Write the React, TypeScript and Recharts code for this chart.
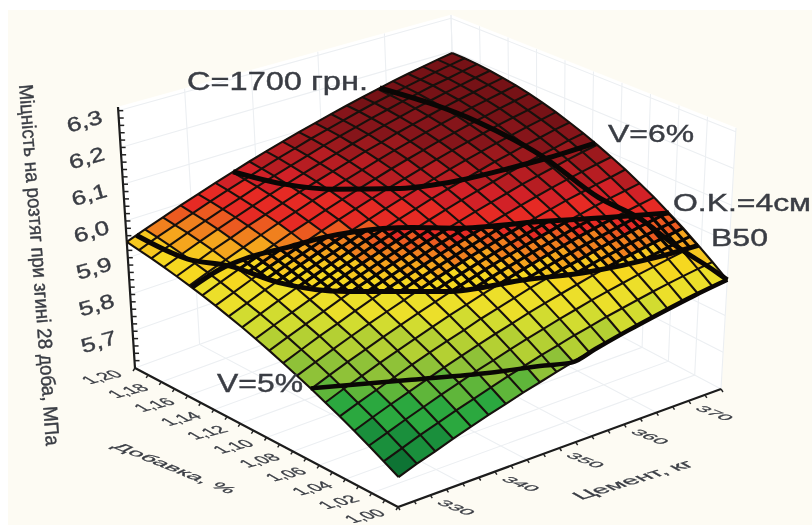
import { ComposedChart, Polygon, Scatter, XAxis, YAxis } from "recharts"

const additiveLevels = [1.0, 1.01, 1.02, 1.03, 1.04, 1.05, 1.06, 1.07, 1.08, 1.09, 1.1, 1.11, 1.12, 1.13, 1.14, 1.15, 1.16, 1.17, 1.18, 1.19, 1.2]
const cementLevels = [320, 322.5, 325, 327.5, 330, 332.5, 335, 337.5, 340, 342.5, 345, 347.5, 350, 352.5, 355, 357.5, 360, 362.5, 365, 367.5, 370]

// one row per cement level, one column per additive level
const strengthRows = [
  [5.674, 5.694, 5.714, 5.733, 5.751, 5.768, 5.785, 5.801, 5.816, 5.831, 5.845, 5.858, 5.87, 5.882, 5.893, 5.903, 5.912, 5.921, 5.929, 5.936, 5.943],
  [5.691, 5.711, 5.731, 5.751, 5.769, 5.787, 5.804, 5.82, 5.835, 5.85, 5.864, 5.877, 5.889, 5.901, 5.912, 5.922, 5.931, 5.94, 5.948, 5.955, 5.961],
  [5.706, 5.728, 5.748, 5.768, 5.786, 5.804, 5.822, 5.838, 5.854, 5.868, 5.882, 5.896, 5.908, 5.92, 5.93, 5.94, 5.95, 5.958, 5.966, 5.972, 5.978],
  [5.722, 5.743, 5.764, 5.784, 5.803, 5.822, 5.839, 5.856, 5.871, 5.886, 5.9, 5.914, 5.926, 5.938, 5.948, 5.958, 5.967, 5.976, 5.983, 5.989, 5.995],
  [5.737, 5.759, 5.78, 5.8, 5.82, 5.838, 5.856, 5.873, 5.889, 5.904, 5.918, 5.931, 5.944, 5.955, 5.966, 5.976, 5.985, 5.993, 6.0, 6.006, 6.011],
  [5.751, 5.773, 5.795, 5.816, 5.836, 5.854, 5.872, 5.889, 5.906, 5.921, 5.935, 5.948, 5.961, 5.972, 5.983, 5.993, 6.001, 6.009, 6.016, 6.022, 6.027],
  [5.764, 5.787, 5.81, 5.831, 5.851, 5.87, 5.888, 5.905, 5.922, 5.937, 5.951, 5.965, 5.977, 5.989, 5.999, 6.009, 6.017, 6.025, 6.032, 6.037, 6.042],
  [5.778, 5.801, 5.823, 5.845, 5.865, 5.885, 5.903, 5.921, 5.937, 5.953, 5.967, 5.981, 5.993, 6.005, 6.015, 6.025, 6.033, 6.04, 6.047, 6.052, 6.057],
  [5.79, 5.814, 5.837, 5.859, 5.88, 5.899, 5.918, 5.936, 5.952, 5.968, 5.982, 5.996, 6.008, 6.02, 6.03, 6.04, 6.048, 6.055, 6.061, 6.067, 6.071],
  [5.802, 5.827, 5.85, 5.872, 5.893, 5.913, 5.932, 5.95, 5.967, 5.983, 5.997, 6.011, 6.023, 6.035, 6.045, 6.054, 6.062, 6.069, 6.075, 6.08, 6.084],
  [5.814, 5.838, 5.862, 5.885, 5.906, 5.926, 5.946, 5.964, 5.981, 5.997, 6.011, 6.025, 6.037, 6.049, 6.059, 6.068, 6.076, 6.083, 6.089, 6.094, 6.097],
  [5.824, 5.85, 5.874, 5.897, 5.919, 5.939, 5.959, 5.977, 5.994, 6.01, 6.025, 6.039, 6.051, 6.062, 6.073, 6.082, 6.09, 6.096, 6.102, 6.106, 6.109],
  [5.835, 5.86, 5.885, 5.908, 5.93, 5.951, 5.971, 5.99, 6.007, 6.023, 6.038, 6.052, 6.064, 6.075, 6.086, 6.095, 6.102, 6.109, 6.114, 6.118, 6.121],
  [5.844, 5.871, 5.896, 5.919, 5.942, 5.963, 5.983, 6.002, 6.019, 6.035, 6.05, 6.064, 6.077, 6.088, 6.098, 6.107, 6.115, 6.121, 6.126, 6.13, 6.132],
  [5.854, 5.88, 5.906, 5.93, 5.952, 5.974, 5.994, 6.013, 6.031, 6.047, 6.062, 6.076, 6.089, 6.1, 6.11, 6.119, 6.126, 6.132, 6.137, 6.141, 6.143],
  [5.862, 5.889, 5.915, 5.94, 5.963, 5.985, 6.005, 6.024, 6.042, 6.059, 6.074, 6.088, 6.1, 6.111, 6.121, 6.13, 6.137, 6.143, 6.148, 6.151, 6.153],
  [5.87, 5.898, 5.924, 5.949, 5.972, 5.994, 6.015, 6.035, 6.053, 6.069, 6.084, 6.098, 6.111, 6.122, 6.132, 6.141, 6.148, 6.153, 6.158, 6.161, 6.163],
  [5.878, 5.906, 5.932, 5.958, 5.981, 6.004, 6.025, 6.044, 6.063, 6.079, 6.095, 6.109, 6.121, 6.133, 6.142, 6.151, 6.158, 6.163, 6.168, 6.17, 6.172],
  [5.885, 5.913, 5.94, 5.966, 5.99, 6.013, 6.034, 6.054, 6.072, 6.089, 6.104, 6.118, 6.131, 6.142, 6.152, 6.16, 6.167, 6.172, 6.176, 6.179, 6.18],
  [5.891, 5.92, 5.948, 5.973, 5.998, 6.021, 6.042, 6.062, 6.081, 6.098, 6.114, 6.128, 6.14, 6.151, 6.161, 6.169, 6.176, 6.181, 6.185, 6.187, 6.188],
  [5.897, 5.926, 5.954, 5.981, 6.005, 6.029, 6.05, 6.071, 6.089, 6.106, 6.122, 6.136, 6.149, 6.16, 6.17, 6.178, 6.184, 6.189, 6.193, 6.195, 6.195],
]

// iso-lines on the surface, [additive, cement]
const costCurve = [[1.2, 359], [1.144, 362], [1.105, 363.6], [1.069, 364.5], [1.048, 366.5], [1.028, 367.5], [1.006, 369.5], [1.0, 370]]
const v6Curve = [[1.2, 336.5], [1.174, 338.8], [1.154, 342], [1.132, 347.6], [1.118, 353.2], [1.109, 359], [1.103, 364], [1.098, 370]]
const v5Curve = [[1.066, 320], [1.038, 329.7], [1.018, 337.6], [1.006, 343.5], [1.0, 346.5], [1.0, 350], [1.0, 355], [1.0, 360], [1.0, 365], [1.0, 370]]
const okCurve = [[1.153, 320], [1.152, 324.1], [1.148, 327.6], [1.139, 332.1], [1.132, 335.9], [1.125, 338.9], [1.108, 344.4], [1.094, 348.2], [1.073, 356.5], [1.057, 363.3], [1.044, 370]]
const b50Curve = [[1.2, 321.5], [1.169, 322.7], [1.15, 325.3], [1.125, 327.5], [1.098, 332.3], [1.067, 341], [1.05, 349.2], [1.036, 356.4], [1.026, 364.6], [1.022, 370]]

const strengthTicks = [5.7, 5.8, 5.9, 6.0, 6.1, 6.2, 6.3]
const additiveTicks = [1.0, 1.02, 1.04, 1.06, 1.08, 1.1, 1.12, 1.14, 1.16, 1.18, 1.2]
const cementTicks = [330, 340, 350, 360, 370]
const strengthMinor = [5.62, 5.64, 5.66, 5.68, 5.7, 5.72, 5.74, 5.76, 5.78, 5.8, 5.82, 5.84, 5.86, 5.88, 5.9, 5.92, 5.94, 5.96, 5.98, 6.0, 6.02, 6.04, 6.06, 6.08, 6.1, 6.12, 6.14, 6.16, 6.18, 6.2, 6.22, 6.24, 6.26, 6.28, 6.3]

// colour bands: upper strength limit, fill
const bands: [number, string][] = [
  [5.7, "#0e7434"], [5.74, "#1a8f3c"], [5.775, "#2ba83f"], [5.8, "#5fb63a"], [5.83, "#8fc238"], [5.86, "#b4d033"],
  [5.885, "#d2dc30"], [5.915, "#ecdf2a"], [5.935, "#f6d820"], [5.95, "#f6c71f"], [5.965, "#f5a51d"], [5.98, "#f0801e"],
  [5.995, "#ec5a20"], [6.03, "#e62a24"], [6.055, "#d22127"], [6.08, "#b71d22"], [6.105, "#9c191d"], [6.135, "#86151a"], [9, "#761216"],
]

const WIDTH = 812
const HEIGHT = 525
const zMin = 5.6
const zMax = 6.31
const FORESHORTEN = 0.14

// box corners on the page: floor and top of front, left, right and back verticals
const floor = { f: [398, 507], l: [135, 368], r: [721, 389], b: [458, 250] }
const top = { f: [403, 220], l: [118, 107], r: [736, 128], b: [451, 15] }

type Pt = { x: number; y: number }

function project(additive: number, cement: number, strength: number): Pt {
  const u = (additive - 1) / 0.2
  const v = (cement - 320) / 50
  const w = (strength - zMin) / (zMax - zMin)
  const at = (k: number) => {
    const low = (1 - u) * (1 - v) * floor.f[k] + u * (1 - v) * floor.l[k] + (1 - u) * v * floor.r[k] + u * v * floor.b[k]
    const high = (1 - u) * (1 - v) * top.f[k] + u * (1 - v) * top.l[k] + (1 - u) * v * top.r[k] + u * v * top.b[k]
    return low + (high - low) * w
  }
  return { x: at(0), y: at(1) }
}

// the surface mesh shrinks towards the back corner, as in a perspective view
const warp = (t: number) => ((1 + FORESHORTEN) * t) / (1 + FORESHORTEN * t)
const unwarp = (t: number) => t / (1 + FORESHORTEN - FORESHORTEN * t)
const meshPoint = (additive: number, cement: number, strength: number) =>
  project(1 + warp((additive - 1) / 0.2) * 0.2, 320 + warp((cement - 320) / 50) * 50, strength)

function strengthAt(additive: number, cement: number) {
  const fi = Math.min(19.999, (additive - 1) / 0.01)
  const fj = Math.min(19.999, (cement - 320) / 2.5)
  const i = Math.floor(fi)
  const j = Math.floor(fj)
  const a = fi - i
  const b = fj - j
  return (
    strengthRows[j][i] * (1 - a) * (1 - b) +
    strengthRows[j][i + 1] * a * (1 - b) +
    strengthRows[j + 1][i] * (1 - a) * b +
    strengthRows[j + 1][i + 1] * a * b
  )
}

const curvePoints = (curve: number[][]) =>
  curve.map(([a, c]) => project(a, c, strengthAt(1 + unwarp((a - 1) / 0.2) * 0.2, 320 + unwarp((c - 320) / 50) * 50)))

function bandColor(z: number) {
  return bands.find((b) => z < b[0])![1]
}

function makeCell(points: Pt[], fill: string) {
  const [first] = points
  return { x: first.x, y: first.y, fill, offsets: points.map((p) => [p.x - first.x, p.y - first.y]) }
}

const cells: ReturnType<typeof makeCell>[] = []
cementLevels.slice(0, -1).forEach((c, j) => {
  additiveLevels.slice(0, -1).forEach((a, i) => {
    const mean = (strengthRows[j][i] + strengthRows[j][i + 1] + strengthRows[j + 1][i] + strengthRows[j + 1][i + 1]) / 4
    cells.push(
      makeCell(
        [
          meshPoint(a, c, strengthRows[j][i]),
          meshPoint(additiveLevels[i + 1], c, strengthRows[j][i + 1]),
          meshPoint(additiveLevels[i + 1], cementLevels[j + 1], strengthRows[j + 1][i + 1]),
          meshPoint(a, cementLevels[j + 1], strengthRows[j + 1][i]),
        ],
        bandColor(mean),
      ),
    )
  })
})

const walls = [
  makeCell([project(1.2, 320, zMin), project(1.2, 320, zMax), project(1.2, 370, zMax), project(1.2, 370, zMin)], "#ffffff"),
  makeCell([project(1.2, 370, zMin), project(1.2, 370, zMax), project(1, 370, zMax), project(1, 370, zMin)], "#ffffff"),
  makeCell([project(1, 320, zMin), project(1.2, 320, zMin), project(1.2, 370, zMin), project(1, 370, zMin)], "#ffffff"),
]

const meshRows = additiveLevels.map((a, i) => cementLevels.map((c, j) => meshPoint(a, c, strengthRows[j][i])))
const meshCols = cementLevels.map((c, j) => additiveLevels.map((a, i) => meshPoint(a, c, strengthRows[j][i])))

const midAdditive = additiveLevels.slice(0, -1).map((a, i) => (a + additiveLevels[i + 1]) / 2)
const midCement = cementLevels.slice(0, -1).map((c, j) => (c + cementLevels[j + 1]) / 2)
const hatchLines = [
  ...meshRows,
  ...meshCols,
  ...midAdditive.map((a) => cementLevels.map((c) => meshPoint(a, c, strengthAt(a, c)))),
  ...midCement.map((c) => additiveLevels.map((a) => meshPoint(a, c, strengthAt(a, c)))),
]

const hatchOutline = [...curvePoints(okCurve.slice(2)), ...curvePoints(b50Curve.slice(2)).reverse()]

const gridLines = [
  ...strengthTicks.map((z) => [project(1.2, 320, z), project(1.2, 370, z), project(1, 370, z)]),
  ...cementTicks.map((c) => [project(1, c, zMin), project(1.2, c, zMin), project(1.2, c, zMax)]),
  ...additiveTicks.map((a) => [project(a, 320, zMin), project(a, 370, zMin), project(a, 370, zMax)]),
]

const leftTicks = strengthMinor.map((z) => project(1.2, 320, z))
const frontTicks = additiveLevels.map((a) => project(a, 320, zMin))
const rightTicks = cementLevels.map((c) => project(1, c, zMin))

const axisLine = [project(1.2, 320, zMax), project(1.2, 320, zMin), project(1, 320, zMin), project(1, 370, zMin)]

type Label = Pt & { text: string; size: number; length: number; transform: string; anchor?: string }

const shifted = (p: Pt, dx: number, dy: number) => ({ x: p.x + dx, y: p.y + dy })

const floorAlongCement = "matrix(1 -0.25 0.85 0.5 0 0)"
const floorAlongAdditive = "matrix(1 0.38 -0.75 0.3 0 0)"

const tickLabels: Label[] = [
  ...strengthTicks.map((z) => ({
    ...shifted(project(1.2, 320, z), -32, 17),
    text: z.toFixed(1).replace(".", ","),
    size: 20,
    length: 36,
    transform: "rotate(-16)",
    anchor: "middle",
  })),
  ...additiveTicks.map((a) => ({
    ...shifted(project(a, 320, zMin), -28, 12),
    text: a.toFixed(2).replace(".", ","),
    size: 18,
    length: 34,
    transform: floorAlongCement,
    anchor: "middle",
  })),
  ...cementTicks.map((c) => ({
    ...shifted(project(1, c, zMin), -11, 26),
    text: String(c),
    size: 18,
    length: 32,
    transform: floorAlongAdditive,
    anchor: "middle",
  })),
]

const textLabels: Label[] = [
  { x: 187, y: 90, text: "C=1700 грн.", size: 25, length: 181, transform: "" },
  { x: 608, y: 142, text: "V=6%", size: 24, length: 86, transform: "" },
  { x: 673, y: 211, text: "O.K.=4см", size: 23, length: 138, transform: "" },
  { x: 711, y: 246, text: "B50", size: 23, length: 57, transform: "" },
  { x: 217, y: 392, text: "V=5%", size: 25, length: 86, transform: "" },
  { x: 19, y: 85, text: "Міцність на розтяг при згині 28 доба, МПа", size: 20, length: 362, transform: "rotate(85.7)" },
  { x: 111, y: 447, text: "Добавка, %", size: 20, length: 118, transform: "matrix(1 0.4 -0.7 0.35 0 0)" },
  { x: 581, y: 500, text: "Цемент, кг", size: 20, length: 115, transform: "matrix(1 -0.3 0.8 0.45 0 0)" },
]

function CellShape({ cx, cy, payload }: any) {
  const points = payload.offsets.map(([dx, dy]: number[]) => ({ x: cx + dx, y: cy + dy }))
  return <Polygon points={points} fill={payload.fill} stroke={payload.fill} strokeWidth={0.6} />
}

function LabelShape({ cx, cy, payload }: any) {
  return (
    <text
      transform={`translate(${cx} ${cy}) ${payload.transform}`}
      fontFamily="'Liberation Sans', Arial, sans-serif"
      fontSize={payload.size}
      fill="#3a3d44"
      stroke="#3a3d44"
      strokeWidth={0.4}
      textAnchor={payload.anchor ?? "start"}
      textLength={payload.length}
      lengthAdjust="spacingAndGlyphs"
    >
      {payload.text}
    </text>
  )
}

const NoPoint = () => <g />

// every polyline is a Scatter so that it keeps its place in the paint order
function series(points: Pt[], key: string, stroke: string, width: number, extra: object = {}) {
  return <Scatter key={key} data={points} line={{ stroke, strokeWidth: width }} shape={NoPoint} isAnimationActive={false} {...extra} />
}

export default function App() {
  const outline = hatchOutline.map((p) => `${p.x},${p.y}`).join(" ")
  return (
    <div style={{ position: "relative", width: WIDTH, height: HEIGHT, overflow: "hidden", background: "#fff" }}>
      <style>{"body{margin:0}.hatch{clip-path:url(#hatchClip)}"}</style>
      <div style={{ position: "absolute", left: 8, top: 10, right: 0, bottom: 0, background: "#fdfbf3" }} />
      <svg width={0} height={0} style={{ position: "absolute" }}>
        <defs>
          <clipPath id="hatchClip">
            <polygon points={outline} />
          </clipPath>
        </defs>
      </svg>
      <div style={{ position: "absolute", left: 0, top: 0, filter: "blur(0.7px)" }}>
        <ComposedChart width={WIDTH} height={HEIGHT} margin={{ top: 0, right: 0, bottom: 0, left: 0 }}>
          <XAxis type="number" dataKey="x" domain={[0, WIDTH]} hide />
          <YAxis type="number" dataKey="y" domain={[0, HEIGHT]} reversed hide />

          <Scatter data={walls} shape={CellShape} isAnimationActive={false} />
          {gridLines.map((g, i) => series(g, `grid-${i}`, "#eceff2", 1.1))}
          {series(axisLine, "axis", "#1c1c1c", 2.2)}
          <Scatter data={leftTicks} isAnimationActive={false} shape={({ cx, cy }: any) => <line x1={cx} y1={cy} x2={cx + 5} y2={cy} stroke="#222" strokeWidth={1.5} />} />
          <Scatter data={frontTicks} isAnimationActive={false} shape={({ cx, cy }: any) => <line x1={cx} y1={cy} x2={cx - 2} y2={cy + 3} stroke="#222" strokeWidth={1.4} />} />
          <Scatter data={rightTicks} isAnimationActive={false} shape={({ cx, cy }: any) => <line x1={cx} y1={cy} x2={cx + 2} y2={cy + 3} stroke="#222" strokeWidth={1.4} />} />

          <Scatter data={cells} shape={CellShape} isAnimationActive={false} />
          {meshRows.map((g, i) => series(g, `row-${i}`, "#17110d", 2.1))}
          {meshCols.map((g, i) => series(g, `col-${i}`, "#17110d", 2.1))}
          {hatchLines.map((g, i) => series(g, `hatch-${i}`, "#0a0705", 3.1, { className: "hatch" }))}

          {series(curvePoints(costCurve), "cost", "#0a0705", 5, { lineJointType: "monotoneX" })}
          {series(curvePoints(v6Curve), "v6", "#0a0705", 5, { lineJointType: "monotoneX" })}
          {series(curvePoints(v5Curve), "v5", "#0a0705", 4.5, { lineJointType: "monotoneX" })}
          {series(curvePoints(okCurve), "ok", "#0a0705", 5, { lineJointType: "monotoneX" })}
          {series(curvePoints(b50Curve), "b50", "#0a0705", 5, { lineJointType: "monotoneX" })}

          <Scatter data={[...tickLabels, ...textLabels]} shape={LabelShape} isAnimationActive={false} />
        </ComposedChart>
      </div>
    </div>
  )
}
